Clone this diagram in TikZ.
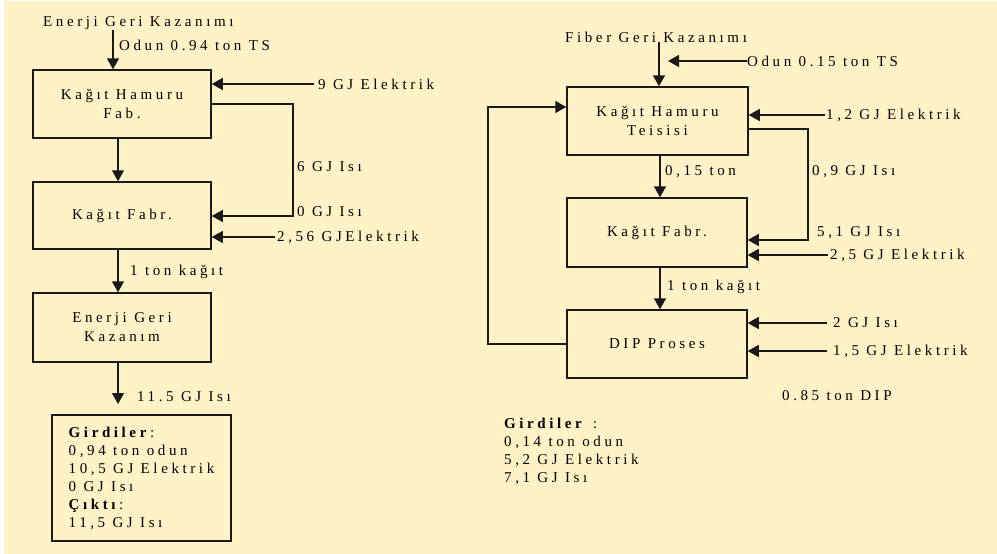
\documentclass[tikz,border=0pt]{standalone}
\usepackage{fontspec}
\setmainfont{Liberation Serif}[LetterSpace=24]
\usetikzlibrary{arrows.meta}
\definecolor{bg}{HTML}{FFF2C6}
\definecolor{ink}{HTML}{1A1A1A}
\begin{document}
\begin{tikzpicture}[x=1pt,y=-1pt,
  font=\fontsize{15}{18}\selectfont,
  box/.style={draw=ink,line width=1.5pt,align=center,inner sep=0pt,
    font=\fontsize{15}{19}\selectfont},
  lbl/.style={anchor=west,inner sep=0pt},
  arr/.style={draw=ink,line width=1.5pt,-{Triangle[length=11pt,width=12pt]}}]
\useasboundingbox (0,0) rectangle (997,554);
\fill[white] (0,0) rectangle (997,554);
\fill[bg] (4,1) rectangle (997,554);

% ---------- left column ----------
\node[lbl] (ltop) at (43,23) {Enerji Geri Kazanımı};
\node[lbl] (lodun) at (119,45) {Odun 0.94 ton TS};
\node[box,minimum width=178pt,minimum height=68pt] (L1) at (122,104) {Kağıt Hamuru\\Fab.};
\node[box,minimum width=178pt,minimum height=67pt] (L2) at (122,215.5) {Kağıt Fabr.};
\node[box,minimum width=178pt,minimum height=69pt] (L3) at (122,327.5) {Enerji Geri\\Kazanım};
\node[box,minimum width=179pt,minimum height=126pt,align=left,
      font=\fontsize{15}{18}\selectfont] (L4) at (141.5,478)
  {\textbf{Girdiler}:\\0,94 ton odun\\10,5 GJ Elektrik\\0 GJ Isı\\\textbf{Çıktı}:\\11,5 GJ Isı\hspace*{12pt}};

\node[lbl] (l9) at (318,84) {9 GJ Elektrik};
\node[lbl] (l6) at (297,167) {6 GJ Isı};
\node[lbl] (l0) at (297,212) {0 GJ Isı};
\node[lbl] (l256) at (277,237) {2,56 GJElektrik};
\node[lbl] (l1t) at (130,272) {1 ton kağıt};
\node[lbl] (l115) at (137,397) {11.5 GJ Isı};

\coordinate (ax) at (113,0);
\coordinate (bx) at (118,0);
\coordinate (lloop) at (293,216);
\coordinate (lend) at (118,404);

\draw[arr] (ltop.south -| ax) -- (L1.north -| ax);
\draw[arr] (L1.south -| bx) -- (L2.north -| bx);
\draw[arr] (L2.south -| bx) -- (L3.north -| bx);
\draw[arr] (L3.south -| bx) -- (lend);
\draw[arr] ([xshift=-4pt]l9.west) -- (L1.east |- l9.west);
\draw[arr] (L1.east) -| (lloop) -- (L2.east |- lloop);
\draw[arr] ([xshift=-2pt]l256.west) -- (L2.east |- l256.west);

% ---------- right column ----------
\node[lbl] (rtop) at (565,37) {Fiber Geri Kazanımı};
\node[lbl] (rodun) at (747,61) {Odun 0.15 ton TS};
\node[box,minimum width=181pt,minimum height=68pt] (R1) at (657.5,121) {Kağıt Hamuru\\Teisisi};
\node[box,minimum width=180pt,minimum height=69pt] (R2) at (657,232.5) {Kağıt Fabr.};
\node[box,minimum width=180pt,minimum height=68pt] (R3) at (657,344) {DIP Proses};

\node[lbl] (r12) at (826,115) {1,2 GJ Elektrik};
\node[lbl] (r09) at (812,172) {0,9 GJ Isı};
\node[lbl] (r51) at (817,233) {5,1 GJ Isı};
\node[lbl] (r25) at (830,255) {2,5 GJ Elektrik};
\node[lbl] (r015) at (665,172) {0,15 ton};
\node[lbl] (r1t) at (667,287) {1 ton kağıt};
\node[lbl] (r2) at (833,323) {2 GJ Isı};
\node[lbl] (r15) at (833,351) {1,5 GJ Elektrik};
\node[lbl] (r085) at (782,396) {0.85 ton DIP};
\node[anchor=north west,inner sep=0pt,align=left] (rgird) at (504,418)
  {\textbf{Girdiler} :\\0,14 ton odun\\5,2 GJ Elektrik\\7,1 GJ Isı};

\coordinate (cx) at (659,0);
\coordinate (dx) at (660,0);
\coordinate (odtip) at (668,61);
\coordinate (rl1) at (808,129);
\coordinate (rl2) at (808,240);
\coordinate (fbtop) at (488,107);

\draw[arr] (rtop.south -| cx) -- (R1.north -| cx);
\draw[arr] (rodun.west) -- (odtip);
\draw[arr] (R1.south -| dx) -- (R2.north -| dx);
\draw[arr] (R2.south -| dx) -- (R3.north -| dx);
\draw[arr] ([xshift=-1pt]r12.west) -- (R1.east |- r12.west);
\draw[arr] (R1.east |- rl1) -- (rl1) -- (rl2) -- (R2.east |- rl2);
\draw[arr] ([xshift=-2pt]r25.west) -- (R2.east |- r25.west);
\draw[arr] ([xshift=-6pt]r2.west) -- (R3.east |- r2.west);
\draw[arr] ([xshift=-6pt]r15.west) -- (R3.east |- r15.west);
\draw[arr] (R3.west) -| (fbtop) -- (R1.west |- fbtop);
\end{tikzpicture}
\end{document}
